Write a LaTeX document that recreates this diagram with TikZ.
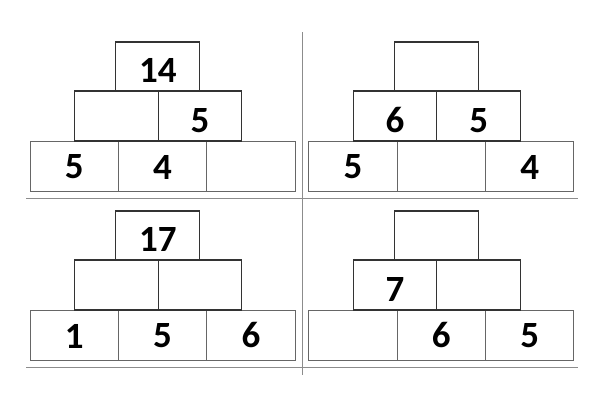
\documentclass[tikz,border=0pt]{standalone}
\usepackage{fontspec}
\setsansfont{Carlito}
\usetikzlibrary{positioning}
\tikzset{
	x=1pt, y=-1pt,
	brick/.style={draw=black!80, line width=1.2pt, inner sep=0pt, outer sep=0pt,
		font=\sffamily\bfseries\fontsize{37}{42}\selectfont, text height=32.5pt},
	lowbrick/.style={brick, draw=black!60, line width=0.9pt, text height=25.5pt,
		minimum width=88.4pt, minimum height=50.5pt},
	midbrick/.style={brick, minimum width=83.7pt, minimum height=50pt},
	topbrick/.style={brick, minimum width=84pt, minimum height=49pt},
	rule/.style={draw=black!45, line width=1.3pt}}

\begin{document}
\begin{tikzpicture}
		\useasboundingbox (0,0) rectangle (600,420);
		
		% top left
		\node[lowbrick, anchor=north west] (a1) at (30,141) {5};
		\node[lowbrick, right=0pt of a1] (a2) {4};
		\node[lowbrick, right=0pt of a2] (a3) {};
		\node[midbrick, above right=0pt and -44pt of a1] (a4) {};
		\node[midbrick, right=0pt of a4] (a5) {5};
		\node[topbrick, above right=0pt and -42.3pt of a4] (a6) {14};
		
		% top right
		\node[lowbrick, anchor=north west] (b1) at (308.7,141) {5};
		\node[lowbrick, right=0pt of b1] (b2) {};
		\node[lowbrick, right=0pt of b2] (b3) {4};
		\node[midbrick, above right=0pt and -44pt of b1] (b4) {6};
		\node[midbrick, right=0pt of b4] (b5) {5};
		\node[topbrick, above right=0pt and -42.3pt of b4] (b6) {};
		
		% bottom left
		\node[lowbrick, anchor=north west] (c1) at (30,310) {1};
		\node[lowbrick, right=0pt of c1] (c2) {5};
		\node[lowbrick, right=0pt of c2] (c3) {6};
		\node[midbrick, above right=0pt and -44pt of c1] (c4) {};
		\node[midbrick, right=0pt of c4] (c5) {};
		\node[topbrick, above right=0pt and -42.3pt of c4] (c6) {17};
		
		% bottom right
		\node[lowbrick, anchor=north west] (d1) at (308.7,310) {};
		\node[lowbrick, right=0pt of d1] (d2) {6};
		\node[lowbrick, right=0pt of d2] (d3) {5};
		\node[midbrick, above right=0pt and -44pt of d1] (d4) {7};
		\node[midbrick, right=0pt of d4] (d5) {};
		\node[topbrick, above right=0pt and -42.3pt of d4] (d6) {};
		
		\draw[rule] (26,198.3) -- (578,198.3);
		\draw[rule] (26,367.3) -- (578,367.3);
		\draw[rule] (302.3,32.3) -- (302.3,375);
		
	\end{tikzpicture}
\end{document}
